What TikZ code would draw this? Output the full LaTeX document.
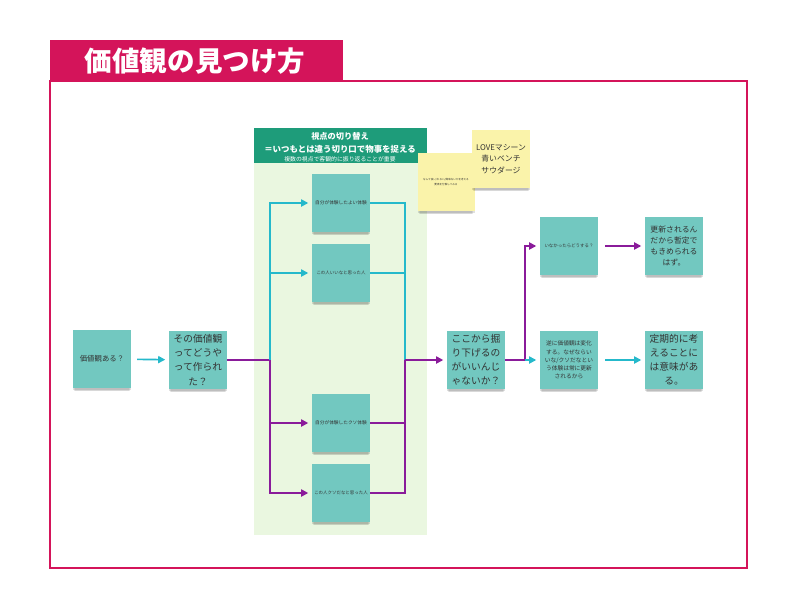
\documentclass[tikz,border=0pt]{standalone}
\usepackage{fontspec}
\setmainfont{Noto Sans CJK JP}
\usetikzlibrary{arrows.meta,shadows}
\definecolor{framemagenta}{HTML}{D4145A}
\definecolor{notecyan}{HTML}{72C8C0}
\definecolor{notetext}{HTML}{333333}
\definecolor{panelgreen}{HTML}{EAF7E0}
\definecolor{headgreen}{HTML}{1E9C7A}
\definecolor{linecyan}{HTML}{25B9CB}
\definecolor{linepurple}{HTML}{8A1B9A}
\definecolor{noteyellow}{HTML}{FAF3AA}

\newcommand{\fs}[1]{\fontsize{#1}{#1}\selectfont}

\begin{document}
\begin{tikzpicture}[x=0.03cm,y=-0.03cm,
    note/.style={fill=notecyan, text=notetext, minimum width=1.74cm, minimum height=1.74cm,
        inner sep=1pt, align=center,
        drop shadow={shadow xshift=0pt, shadow yshift=-5pt, shadow scale=0.92, opacity=0.07, fill=black},
        drop shadow={shadow xshift=0pt, shadow yshift=-3.5pt, shadow scale=0.96, opacity=0.09, fill=black},
        drop shadow={shadow xshift=0pt, shadow yshift=-2pt, opacity=0.12, fill=black}},
    yellownote/.style={note, fill=noteyellow},
    cyanline/.style={draw=linecyan, line width=1.4pt},
    purpleline/.style={draw=linepurple, line width=1.4pt},
    cyanarrow/.style={cyanline, -{Triangle[length=6pt,width=6pt]}, shorten >=3pt},
    purplearrow/.style={purpleline, -{Triangle[length=6pt,width=6pt]}, shorten >=3pt}]

    \useasboundingbox (0,0) rectangle (800,612);

    % frame and title
    \draw[framemagenta, line width=1.8pt] (50,81) rectangle (747,568);
    \fill[framemagenta] (50,40) rectangle (343,82);
    \node[text=white, font=\bfseries\fontsize{23.5}{26}\selectfont] (title) at (195,61) {価値観の見つけ方};

    % panel
    \fill[panelgreen] (254,128) rectangle (427,535);
    \fill[headgreen] (254,128) rectangle (427,163);
    \node[text=white, font=\bfseries\fs{7}, inner sep=0pt] (head1) at (340,136) {視点の切り替え};
    \node[text=white, font=\bfseries\fs{7.2}, inner sep=0pt] (head2) at (340,149) {＝いつもとは違う切り口で物事を捉える};
    \node[text=white, font=\fs{5}, inner sep=0pt] (head3) at (340,159) {複数の視点で客観的に振り返ることが重要};

    % yellow notes
    \node[yellownote, minimum width=1.71cm, font=\fontsize{2.2}{5}\selectfont] (why) at (446,182) {なんで良い/わるい/興味ないかを考える\\要素を分解してみる};
    \node[yellownote, font=\fontsize{6.7}{10}\selectfont] (songs) at (501,159) {LOVEマシーン\\青いベンチ\\サウダージ};

    % notes
    \node[note, font=\fs{6.3}] (have) at (102,359) {価値観ある？};
    \node[note, font=\fontsize{8.3}{12}\selectfont] (made) at (198,360) {その価値観\\ってどうや\\って作られ\\た？};
    \node[note, font=\fs{4}] (good) at (341,203) {自分が体験したよい体験};
    \node[note, font=\fs{3.8}] (nice) at (341,273) {この人いいなと思った人};
    \node[note, font=\fs{4}] (bad) at (341,423) {自分が体験したクソ体験};
    \node[note, font=\fs{3.8}] (awful) at (341,493) {この人クソだなと思った人};
    \node[note, font=\fontsize{8.3}{12}\selectfont] (dig) at (476,360) {ここから掘\\り下げるの\\がいいんじ\\ゃないか？};
    \node[note, font=\fs{3.8}] (none) at (569,246) {いなかったらどうする？};
    \node[note, font=\fontsize{4.9}{7}\selectfont] (change) at (569,360) {逆に価値観は変化\\する。なぜならい\\いな/クソだなとい\\う体験は常に更新\\されるから};
    \node[note, font=\fontsize{6.7}{9.5}\selectfont] (update) at (674,246) {更新されるん\\だから暫定で\\もきめられる\\はず。};
    \node[note, font=\fontsize{8.3}{12}\selectfont] (regular) at (674,360) {定期的に考\\えることに\\は意味があ\\る。};

    \coordinate (split) at (270,360);
    \coordinate (merge) at (405,360);
    \coordinate (fork) at (525,360);

    % connectors
    \draw[cyanarrow, shorten <=5pt] (have) -- (made);
    \draw[purpleline] (made) -- (split);
    \draw[cyanarrow] (split) |- (good);
    \draw[cyanarrow] (split) |- (nice);
    \draw[purplearrow] (split) |- (bad);
    \draw[purplearrow] (split) |- (awful);
    \draw[cyanline] (good) -| (merge);
    \draw[cyanline] (nice) -| (merge);
    \draw[purpleline] (bad) -| (merge);
    \draw[purpleline] (awful) -| (merge);
    \draw[purplearrow] (merge) -- (dig);
    \draw[purpleline] (dig) -- (fork);
    \draw[purplearrow] (fork) |- (none);
    \draw[cyanarrow] (fork) -- (change);
    \draw[purplearrow, shorten <=6pt] (none) -- (update);
    \draw[cyanarrow, shorten <=6pt] (change) -- (regular);

\end{tikzpicture}
\end{document}
